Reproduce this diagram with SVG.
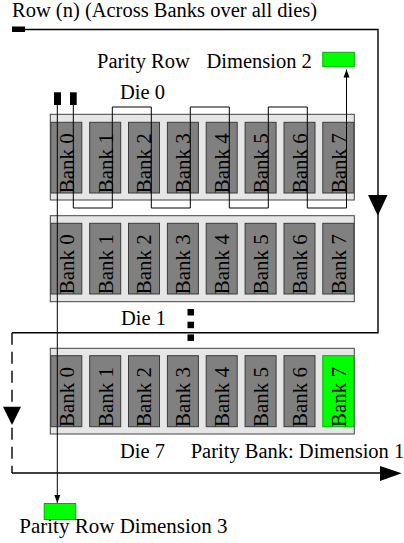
<svg xmlns="http://www.w3.org/2000/svg" width="404" height="543" viewBox="0 0 404 543" font-family="'Liberation Serif', 'Times New Roman', Times, serif">
<defs>
<style>
text{font-family:'Liberation Serif','Times New Roman',Times,serif;fill:#000}
.lbl{font-size:20.5px}
.bk{font-size:21px}
.die{fill:#e6e6e6;stroke:#444;stroke-width:1}
.bank{fill:#808080;stroke:#3a3a3a;stroke-width:1}
.green{fill:#00ff00;stroke:#00b000;stroke-width:1}
.ln{fill:none;stroke:#000;stroke-width:1}
.lnb{fill:none;stroke:#000;stroke-width:1.4}
</style>
<marker id="ah" markerWidth="8" markerHeight="10" refX="8" refY="5" orient="auto" markerUnits="userSpaceOnUse">
<path d="M0,2 L8,5 L0,8 Z" fill="#000"/>
</marker>
</defs>
<rect width="404" height="543" fill="#fff"/>

<text class="lbl" x="12" y="16.5" font-family="'Liberation Serif', serif">Row (n) (Across Banks over all dies)</text>

<g id="die0" font-family="'Liberation Serif', serif">
<rect class="die" x="50.3" y="114.3" width="304" height="85.7"/>
<rect class="bank" x="50.8" y="122.3" width="31" height="70.7"/>
<rect class="bank" x="89.7" y="122.3" width="31" height="70.7"/>
<rect class="bank" x="128.5" y="122.3" width="31" height="70.7"/>
<rect class="bank" x="167.4" y="122.3" width="31" height="70.7"/>
<rect class="bank" x="206.2" y="122.3" width="31" height="70.7"/>
<rect class="bank" x="245.1" y="122.3" width="31" height="70.7"/>
<rect class="bank" x="284" y="122.3" width="31" height="70.7"/>
<rect class="bank" x="322.8" y="122.3" width="31" height="70.7"/>
<text class="bk" transform="translate(73.6,193.3) rotate(-90)">Bank 0</text>
<text class="bk" transform="translate(112.5,193.3) rotate(-90)">Bank 1</text>
<text class="bk" transform="translate(151.3,193.3) rotate(-90)">Bank 2</text>
<text class="bk" transform="translate(190.2,193.3) rotate(-90)">Bank 3</text>
<text class="bk" transform="translate(229,193.3) rotate(-90)">Bank 4</text>
<text class="bk" transform="translate(267.9,193.3) rotate(-90)">Bank 5</text>
<text class="bk" transform="translate(306.8,193.3) rotate(-90)">Bank 6</text>
<text class="bk" transform="translate(345.6,193.3) rotate(-90)">Bank 7</text>
<text class="lbl" x="120" y="99.3">Die 0</text>
</g>

<g id="die1" font-family="'Liberation Serif', serif">
<rect class="die" x="50.3" y="215.7" width="304" height="86"/>
<rect class="bank" x="50.8" y="223.3" width="31" height="70.7"/>
<rect class="bank" x="89.7" y="223.3" width="31" height="70.7"/>
<rect class="bank" x="128.5" y="223.3" width="31" height="70.7"/>
<rect class="bank" x="167.4" y="223.3" width="31" height="70.7"/>
<rect class="bank" x="206.2" y="223.3" width="31" height="70.7"/>
<rect class="bank" x="245.1" y="223.3" width="31" height="70.7"/>
<rect class="bank" x="284" y="223.3" width="31" height="70.7"/>
<rect class="bank" x="322.8" y="223.3" width="31" height="70.7"/>
<text class="bk" transform="translate(73.6,294.3) rotate(-90)">Bank 0</text>
<text class="bk" transform="translate(112.5,294.3) rotate(-90)">Bank 1</text>
<text class="bk" transform="translate(151.3,294.3) rotate(-90)">Bank 2</text>
<text class="bk" transform="translate(190.2,294.3) rotate(-90)">Bank 3</text>
<text class="bk" transform="translate(229,294.3) rotate(-90)">Bank 4</text>
<text class="bk" transform="translate(267.9,294.3) rotate(-90)">Bank 5</text>
<text class="bk" transform="translate(306.8,294.3) rotate(-90)">Bank 6</text>
<text class="bk" transform="translate(345.6,294.3) rotate(-90)">Bank 7</text>
<text class="lbl" x="121" y="325">Die 1</text>
</g>

<g id="ellipsis">
<rect x="187.5" y="309" width="6.5" height="6.5" fill="#000"/>
<rect x="187.5" y="321.7" width="6.5" height="6.5" fill="#000"/>
<rect x="187.5" y="334.4" width="6.5" height="6.5" fill="#000"/>
</g>

<g id="die7" font-family="'Liberation Serif', serif">
<rect class="die" x="50.3" y="348.3" width="304" height="85.7"/>
<rect class="bank" x="50.8" y="355.7" width="31" height="71"/>
<rect class="bank" x="89.7" y="355.7" width="31" height="71"/>
<rect class="bank" x="128.5" y="355.7" width="31" height="71"/>
<rect class="bank" x="167.4" y="355.7" width="31" height="71"/>
<rect class="bank" x="206.2" y="355.7" width="31" height="71"/>
<rect class="bank" x="245.1" y="355.7" width="31" height="71"/>
<rect class="bank" x="284" y="355.7" width="31" height="71"/>
<rect class="green" x="322.8" y="355.7" width="31" height="71"/>
<text class="bk" transform="translate(73.6,427) rotate(-90)">Bank 0</text>
<text class="bk" transform="translate(112.5,427) rotate(-90)">Bank 1</text>
<text class="bk" transform="translate(151.3,427) rotate(-90)">Bank 2</text>
<text class="bk" transform="translate(190.2,427) rotate(-90)">Bank 3</text>
<text class="bk" transform="translate(229,427) rotate(-90)">Bank 4</text>
<text class="bk" transform="translate(267.9,427) rotate(-90)">Bank 5</text>
<text class="bk" transform="translate(306.8,427) rotate(-90)">Bank 6</text>
<text class="bk" transform="translate(345.6,427) rotate(-90)">Bank 7</text>
<text class="lbl" x="120" y="458.3">Die 7</text>
<text class="lbl" x="190.7" y="458.3">Parity Bank: Dimension 1</text>
</g>

<g id="parity2" font-family="'Liberation Serif', serif">
<rect class="green" x="322.8" y="52.3" width="31.5" height="14.4"/>
<text class="lbl" x="97" y="68.3">Parity Row</text>
<text class="lbl" x="206.5" y="68.3">Dimension 2</text>
</g>

<g id="parity3" font-family="'Liberation Serif', serif">
<rect class="green" x="44.2" y="503.5" width="31.5" height="16"/>
<text class="lbl" x="19.3" y="533.3" style="font-size:21px">Parity Row Dimension 3</text>
</g>

<g id="sources">
<rect x="12" y="26.5" width="13" height="5.5" fill="#000"/>
<rect x="54" y="92.3" width="7" height="12.7" fill="#000"/>
<rect x="70" y="92.3" width="6.7" height="12.7" fill="#000"/>
</g>

<g id="connectors">
<path class="ln" d="M73.3,105 V208 H112.3 V107 H151.3 V208 H190.3 V107 H229.3 V208 H268.3 V107 H307.3 V208 H346.5 V69.5" marker-end="url(#ah)"/>
<path class="ln" d="M57.3,105 V503" marker-end="url(#ah)"/>
<path class="lnb" d="M25,29.5 H378 V332.7 H12"/>
<path class="lnb" d="M12,332.7 V473" stroke-dasharray="12,7"/>
<path class="lnb" d="M12,473 H382"/>
<path d="M368,195 L387.5,195 L377.8,215.7 Z" fill="#000"/>
<path d="M3,406.7 L21,406.7 L12,425 Z" fill="#000"/>
<path d="M380,466 L401.7,473.3 L380,481 Z" fill="#000"/>
</g>
</svg>
